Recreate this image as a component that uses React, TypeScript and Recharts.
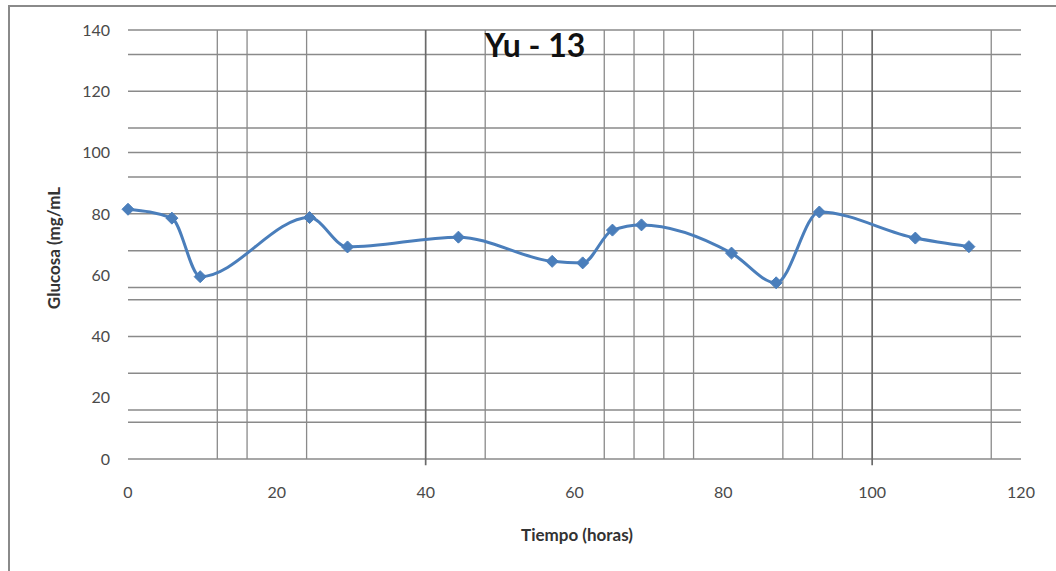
import { LineChart, Line, XAxis, YAxis, ReferenceLine } from 'recharts'

// horas de muestreo y glucosa medida
const tiempo = [0, 5.9, 9.7, 24.4, 29.5, 44.4, 57.0, 61.1, 65.1, 69.0, 81.1, 87.1, 92.9, 105.8, 113.0]
const glucosa = [81.5, 78.6, 59.5, 78.8, 69.2, 72.4, 64.5, 64.0, 74.7, 76.4, 67.2, 57.5, 80.6, 72.1, 69.3]

const ticksX = [0, 20, 40, 60, 80, 100, 120]
const ticksY = [0, 20, 40, 60, 80, 100, 120, 140]

// lineas de cuadricula tal como estan en la hoja
const lineasH = [140, 132, 120, 108, 100, 92, 80, 68, 56, 52, 40, 28, 16, 12]
const lineasV = [12, 16, 24, 48, 64, 68, 72, 76, 88, 92, 96, 116]
const lineasVMayor = [40, 100]

const datos = tiempo.map((t, i) => ({ t, g: glucosa[i] }))

const AZUL = '#4a7ebb'
const GRIS = '#8a8a8a'
const fuente = 'Lato, "Open Sans", sans-serif'

const Rombo = (props: any) => {
  const { cx, cy, index } = props
  if (cx == null || cy == null) return null
  const r = 6
  return <path key={index} d={`M${cx},${cy - r}L${cx + r},${cy}L${cx},${cy + r}L${cx - r},${cy}Z`} fill={AZUL} stroke={AZUL} />
}

export default function App() {
  return (
    <div style={{ position: 'absolute', left: 0, top: 0, width: 1056, height: 571, overflow: 'hidden', background: '#fff', fontFamily: fuente }}>
      <div style={{ position: 'absolute', left: 8, top: 5, width: 1100, height: 600, border: '2px solid #8a8a8a' }} />
      <div style={{ position: 'absolute', left: 0, top: 0 }}>
        <LineChart width={1056} height={571} data={datos} margin={{ top: 30, right: 35, bottom: 72, left: 68 }}>
          <XAxis
            dataKey="t"
            type="number"
            domain={[0, 120]}
            ticks={ticksX}
            axisLine={false}
            tickLine={false}
            tickSize={0}
            tickMargin={28}
            tick={{ fill: '#4a4a4a', fontSize: 16, fontFamily: fuente }}
            height={40}
          />
          <YAxis
            type="number"
            domain={[0, 140]}
            ticks={ticksY}
            axisLine={false}
            tickLine={false}
            tickSize={0}
            tickMargin={18}
            tick={{ fill: '#4a4a4a', fontSize: 16, fontFamily: fuente }}
            width={60}
          />
          {lineasH.map(v => (
            <ReferenceLine key={'h' + v} y={v} stroke={GRIS} strokeWidth={1.5} />
          ))}
          <ReferenceLine y={0} stroke={GRIS} strokeWidth={1.7} />
          {lineasV.map(v => (
            <ReferenceLine key={'v' + v} x={v} stroke={GRIS} strokeWidth={1.3} />
          ))}
          {lineasVMayor.map(v => (
            <ReferenceLine
              key={'m' + v}
              segment={[{ x: v, y: -2 }, { x: v, y: 140 }]}
              ifOverflow="visible"
              stroke="#6a6a6a"
              strokeWidth={1.7}
            />
          ))}
          <Line
            type="monotone"
            dataKey="g"
            stroke={AZUL}
            strokeWidth={3}
            dot={Rombo}
            activeDot={false}
            isAnimationActive={false}
          />
        </LineChart>
      </div>
      <div style={{ position: 'absolute', left: 435, top: 25, width: 200, textAlign: 'center', fontSize: 32, fontWeight: 700, color: '#111' }}>
        Yu - 13
      </div>
      <div
        style={{
          position: 'absolute',
          left: 53,
          top: 248,
          transform: 'translate(-50%, -50%) rotate(-90deg)',
          whiteSpace: 'nowrap',
          fontSize: 17,
          fontWeight: 700,
          color: '#333',
        }}
      >
        Glucosa (mg/mL
      </div>
      <div style={{ position: 'absolute', left: 477, top: 524, width: 200, textAlign: 'center', fontSize: 17, fontWeight: 700, color: '#333' }}>
        Tiempo (horas)
      </div>
    </div>
  )
}
